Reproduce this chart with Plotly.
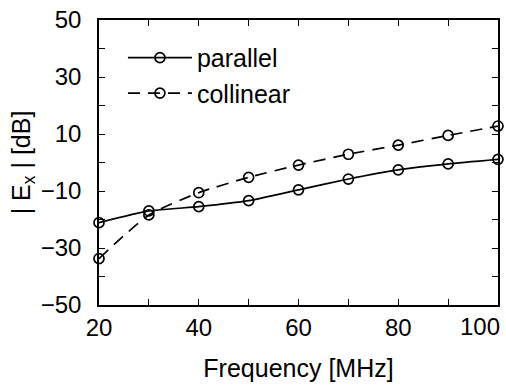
import plotly.graph_objects as go

freq = [20, 30, 40, 50, 60, 70, 80, 90, 100]
parallel = [-21.1, -17.0, -15.5, -13.4, -9.6, -5.8, -2.6, -0.5, 1.1]
collinear = [-33.7, -18.4, -10.6, -5.2, -0.9, 2.9, 6.1, 9.5, 12.8]

x_ticks = [20, 40, 60, 80, 100]
x_ticktext = ["20", "40", "60", "80", "100"]
y_ticks = [50, 30, 10, -10, -30, -50]

font = "Liberation Sans, Arial, sans-serif"
TICK = 24
TITLE = 25

fig = go.Figure()
fig.add_trace(go.Scatter(
    x=freq, y=parallel, name="parallel", mode="lines+markers",
    line=dict(color="black", width=1.7, shape="spline", smoothing=0.5),
    marker=dict(symbol="circle-open", size=10, color="black", line=dict(width=1.7)),
    cliponaxis=False))
fig.add_trace(go.Scatter(
    x=freq, y=collinear, name="collinear", mode="lines+markers",
    line=dict(color="black", width=1.7, dash="12px,8px", shape="spline", smoothing=0.6),
    marker=dict(symbol="circle-open", size=10, color="black", line=dict(width=1.7)),
    cliponaxis=False))

axis_common = dict(
    showline=True, linecolor="black", linewidth=1.5, mirror="ticks",
    ticks="inside", ticklen=6, tickwidth=1.2, tickcolor="black",
    showgrid=False, zeroline=False, automargin=False,
    ticklabeloverflow="allow",
    tickfont=dict(family=font, size=TICK, color="black"),
)

# last x label is drawn as an annotation so it stays inside the page, like the reference
fig.update_xaxes(
    range=[20, 100], tickmode="array", tickvals=x_ticks[:-1],
    ticktext=x_ticktext[:-1],
    minor=dict(dtick=10, tick0=20, ticks="inside", ticklen=6, tickcolor="black", showgrid=False),
    title=dict(text="Frequency [MHz]", font=dict(family=font, size=TITLE, color="black"), standoff=20),
    ticklabelstandoff=0,
    **axis_common)
fig.update_yaxes(
    range=[-50, 50], tickmode="array", tickvals=y_ticks,
    minor=dict(dtick=10, tick0=-50, ticks="inside", ticklen=6, tickcolor="black", showgrid=False),
    title=dict(text="| E<sub>x</sub> | [dB]", font=dict(family=font, size=TITLE, color="black"), standoff=3),
    ticklabelstandoff=11,
    **axis_common)

fig.add_annotation(
    x=x_ticks[-1], xref="x", y=0, yref="paper", text=x_ticktext[-1],
    showarrow=False, xanchor="right", yanchor="top", xshift=4, yshift=-6,
    font=dict(family=font, size=TICK, color="black"))

fig.update_layout(
    width=506, height=385,
    margin=dict(l=99, r=8, t=20, b=80),
    paper_bgcolor="white", plot_bgcolor="white",
    font=dict(family=font, color="black"),
    legend=dict(x=0.06, y=0.948, xanchor="left", yanchor="top",
                font=dict(family=font, size=TITLE, color="black"),
                bgcolor="rgba(0,0,0,0)", itemwidth=64, tracegroupgap=0),
)

# remove the default 8px page margin so the figure fills the window exactly
fig.write_html("out.html", config={"displayModeBar": False},
               post_script="document.body.style.margin='0';")
